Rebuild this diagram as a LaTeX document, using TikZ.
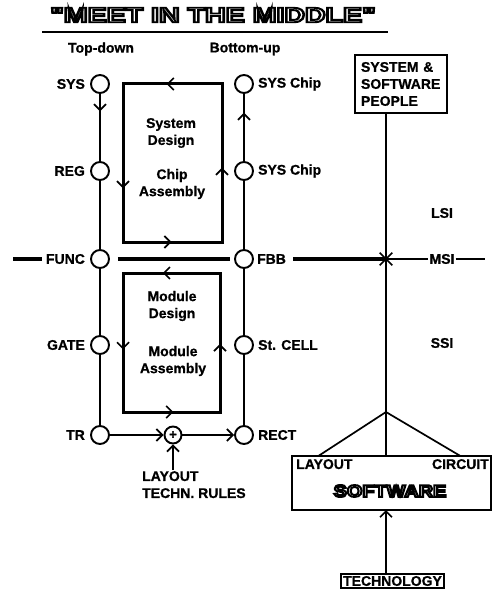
\documentclass[tikz,border=0pt]{standalone}
\usepackage{fontspec}
\setmainfont{Liberation Sans}[BoldFeatures={FakeBold=0.8}]
\newfontfamily\titlefont{Liberation Sans}
\usetikzlibrary{calc,positioning,arrows.meta,decorations.markings,shapes.misc}

\newcommand{\hollow}[2]{\special{pdf:code 1 Tr #1 w}#2\special{pdf:code 0 Tr 1 w}}

\begin{document}
\begin{tikzpicture}[x=1pt, y=-1pt,
  every node/.style={font=\bfseries\fontsize{14}{17}\selectfont, inner sep=1pt},
  lvl/.style={circle, draw, line width=1.9pt, minimum size=18pt, inner sep=0pt},
  flow/.style={line width=1.7pt},
  bus/.style={line width=3.4pt},
  frame/.style={draw, line width=1.9pt, outer sep=0pt},
  loopbox/.style={draw, line width=3pt, outer sep=0pt},
  barb/.style={-{Straight Barb[length=6pt,width=12pt,line width=1.7pt]}},
  midtip/.style={postaction={decorate}, decoration={markings,
    mark=at position #1 with {\arrow{Straight Barb[length=6pt,width=12pt,line width=1.7pt]}}}},
  xmark/.style={cross out, draw, line width=1.7pt, minimum size=11pt, inner sep=0pt}]

\useasboundingbox (0,0) rectangle (493,591);

% TITLE
\node (title) at (213,15) {\titlefont\bfseries\scalebox{1.36}[1]{\fontsize{21}{21}\selectfont\hollow{1.9}{"MEET IN THE MIDDLE"}}};
\coordinate (ulW) at (42,32);
\coordinate (ulE) at (388,32);
\draw[line width=2pt] (ulW) -- (ulE);

\node (topdown) at (101,49) {Top-down};
\node (bottomup) at (245,49) {Bottom-up};

% Top-down column
\node[lvl] (sys) at (100,84) {};
\node[lvl] (reg) at (100,171) {};
\node[lvl] (func) at (100,259) {};
\node[lvl] (gate) at (100,345) {};
\node[lvl] (tr) at (100,435) {};
\node[left=4pt of sys] (syslbl) {SYS};
\node[left=4pt of reg] (reglbl) {REG};
\node[left=4pt of func] (funclbl) {FUNC};
\node[left=4pt of gate] (gatelbl) {GATE};
\node[left=4pt of tr] (trlbl) {TR};
\draw[flow, midtip=0.26] (sys) -- (reg);
\draw[flow] (reg) -- (func) -- (gate) -- (tr);

% Bottom-up column
\node[lvl] (chip) at (244,84) {};
\node[lvl] (chipb) at (244,171) {};
\node[lvl] (fbb) at (244,259) {};
\node[lvl] (cell) at (244,345) {};
\node[lvl] (rect) at (244,435) {};
\node[right=3pt of chip] (chiplbl) {SYS Chip};
\node[right=3pt of chipb] (chipblbl) {SYS Chip};
\node[right=2pt of fbb] (fbblbl) {FBB};
\node[right=3pt of cell] (celllbl) {St. CELL};
\node[right=3pt of rect] (rectlbl) {RECT};
\draw[flow] (rect) -- (cell) -- (fbb) -- (chipb);
\draw[flow, midtip=0.72] (chipb) -- (chip);

% Chip loop (upper box)
\node[loopbox, minimum width=99pt, minimum height=158pt] (chipbox) at (172.5,163) {};
\path[midtip=0.56] (chipbox.north east) -- (chipbox.north west);
\path[midtip=0.66] (chipbox.north west) -- (chipbox.south west);
\path[midtip=0.49] (chipbox.south west) -- (chipbox.south east);
\path[midtip=0.47] (chipbox.south east) -- (chipbox.north east);
\node[align=center] (sysdes) at (171,133) {System\\Design};
\node[align=center] (chipasm) at (172,184) {Chip\\Assembly};

% Module loop (lower box)
\node[loopbox, minimum width=97pt, minimum height=139pt] (modbox) at (171.5,342.5) {};
\path[midtip=0.59] (modbox.north east) -- (modbox.north west);
\path[midtip=0.55] (modbox.north west) -- (modbox.south west);
\path[midtip=0.52] (modbox.south west) -- (modbox.south east);
\path[midtip=0.49] (modbox.south east) -- (modbox.north east);
\node[align=center] (moddes) at (172,306) {Module\\Design};
\node[align=center] (modasm) at (173,361) {Module\\Assembly};

% MSI bus
\coordinate (busW) at (13,259);
\coordinate (busE) at (485,259);
\node[xmark] (cross) at (386,259) {};
\node (msi) at (442,259) {MSI};
\draw[bus, shorten >=3pt] (busW) -- (funclbl.west);
\draw[bus, shorten <=8pt, shorten >=4pt] (func) -- (fbb);
\draw[bus, shorten <=6pt] (fbblbl.east) -- (cross.center);
\draw[flow] (cross.center) -- (msi.west);
\draw[flow] (msi.east) -- (busE);
\node (lsi) at (442,213) {LSI};
\node (ssi) at (442,343) {SSI};

% Layout rules into the join
\node[lvl, minimum size=17pt] (join) at (173,435) {\fontsize{13}{13}\selectfont +};
\draw[flow, barb] (tr) -- (join);
\draw[flow, barb] (join) -- (rect);
\node[anchor=north west, align=left] (rules) at (141,470) {LAYOUT\\TECHN. RULES};
\draw[flow, barb] (rules.north -| join) -- (join);

% People, software, technology
\node[frame, anchor=north west, align=left, text width=80pt, inner xsep=6pt,
      minimum height=58pt] (people) at (355,55) {SYSTEM \&\\SOFTWARE\\PEOPLE};
\coordinate (apex) at (386,412);
\draw[flow] (people.south -| apex) -- (cross.center) -- (apex);

\node[frame, minimum width=199pt, minimum height=54pt] (software) at (391.5,483) {};
\node[anchor=north west] (layoutlbl) at (295,458) {LAYOUT};
\node[anchor=north east] (circuitlbl) at (490,458) {CIRCUIT};
\node (swname) at (390,491) {\titlefont\bfseries\scalebox{1.17}[1]{\fontsize{17}{17}\selectfont\hollow{1.8}{SOFTWARE}}};
\draw[flow] (apex) -- ($(layoutlbl.north |- software.north)+(-6,0)$);
\draw[flow] (apex) -- (apex |- software.north);
\draw[flow] (apex) -- (circuitlbl.north |- software.north);

\node[frame, inner sep=2pt] (tech) at (392.5,581) {TECHNOLOGY};
\draw[flow, barb] (tech.north -| apex) -- (software.south -| apex);

\end{tikzpicture}
\end{document}
